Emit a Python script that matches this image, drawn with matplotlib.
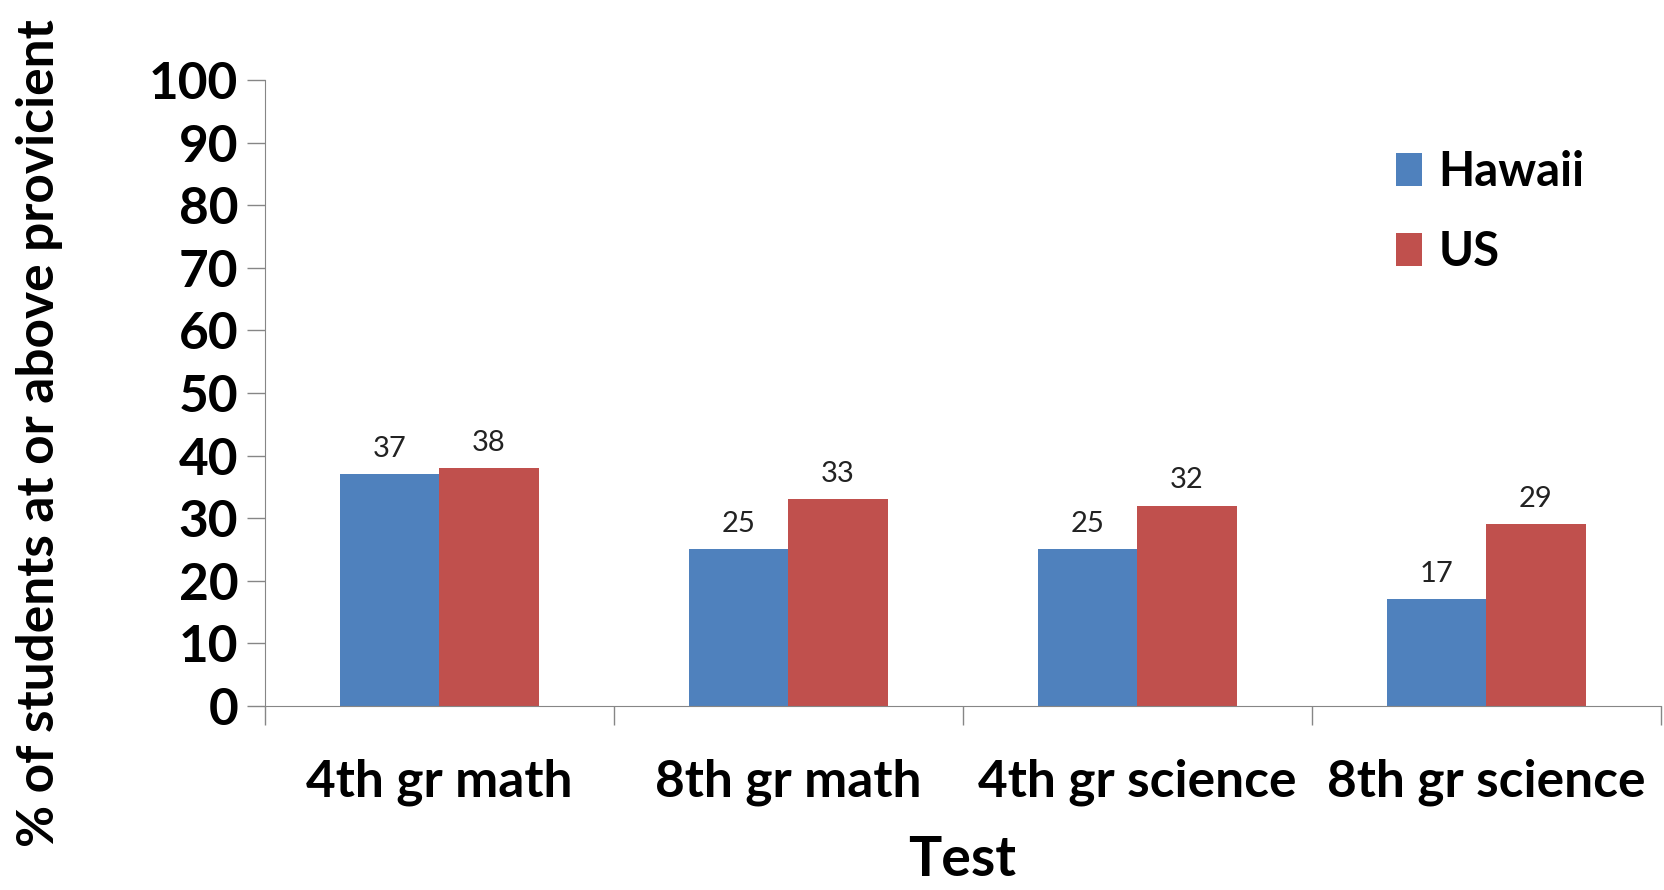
import matplotlib.pyplot as plt
import numpy as np

plt.rcParams['font.family'] = ['Lato', 'DejaVu Sans']

tests = ["4th gr math", "8th gr math", "4th gr science", "8th gr science"]
hawaii = [37, 25, 25, 17]
us = [38, 33, 32, 29]

blue = "#4F81BD"
red = "#C0504D"
grey = "#868686"

fig = plt.figure(figsize=(16.64, 8.90), dpi=100)
ax = fig.add_axes([0.159, 0.207, 0.839, 0.703])

x = np.arange(len(tests))
w = 0.285
b1 = ax.bar(x - w / 2, hawaii, w, color=blue, label="Hawaii")
b2 = ax.bar(x + w / 2, us, w, color=red, label="US")

# value labels over the bars
for bars in (b1, b2):
    for r in bars:
        ax.annotate(str(int(r.get_height())), (r.get_x() + r.get_width() / 2, r.get_height()),
                    xytext=(0, 9), textcoords="offset points", ha="center", va="bottom",
                    fontsize=21, color="#222222")

ax.set_xlim(-0.5, len(tests) - 0.5)
ax.set_ylim(0, 100)
ax.set_yticks(range(0, 101, 10))
ax.tick_params(axis="y", labelsize=37, length=13, width=1, color=grey, pad=6)
for t in ax.get_yticklabels():
    t.set_fontweight("bold")

# category labels in the middle, tick marks between the groups
ax.set_xticks(x)
ax.set_xticklabels(tests, fontsize=37, fontweight="bold")
ax.tick_params(axis="x", length=0, pad=38)
ax.set_xticks(np.arange(-0.5, len(tests), 1), minor=True)
ax.tick_params(axis="x", which="minor", length=14, width=1, color=grey)

for s in ("top", "right"):
    ax.spines[s].set_visible(False)
for s in ("left", "bottom"):
    ax.spines[s].set_color(grey)

ax.set_xlabel("Test", fontsize=40, fontweight="bold", labelpad=21)
fig.text(0.024, 0.513, "% of students at or above provicient", rotation=90,
         ha="center", va="center", fontsize=37, fontweight="bold")

fig.legend(loc="upper left", bbox_to_anchor=(0.839, 0.831), frameon=False,
           borderpad=0, borderaxespad=0,
           handlelength=0.55, handleheight=0.7, handletextpad=0.35, labelspacing=0.75,
           prop={"weight": "bold", "size": 34})

fig.savefig("out.png", dpi=100)
